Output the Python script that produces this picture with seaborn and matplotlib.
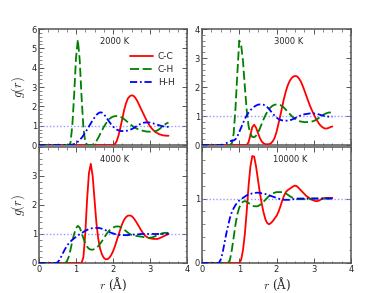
import matplotlib
matplotlib.use("Agg")
import matplotlib.pyplot as plt
import seaborn as sns
from matplotlib.ticker import MultipleLocator, FixedLocator

# ---------------- data ----------------
r = [0.00, 0.05, 0.10, 0.15, 0.20, 0.25, 0.30, 0.35, 0.40, 0.45,
     0.50, 0.55, 0.60, 0.65, 0.70, 0.75, 0.80, 0.85, 0.90, 0.95,
     1.00, 1.05, 1.10, 1.15, 1.20, 1.25, 1.30, 1.35, 1.40, 1.45,
     1.50, 1.55, 1.60, 1.65, 1.70, 1.75, 1.80, 1.85, 1.90, 1.95,
     2.00, 2.05, 2.10, 2.15, 2.20, 2.25, 2.30, 2.35, 2.40, 2.45,
     2.50, 2.55, 2.60, 2.65, 2.70, 2.75, 2.80, 2.85, 2.90, 2.95,
     3.00, 3.05, 3.10, 3.15, 3.20, 3.25, 3.30, 3.35, 3.40, 3.45,
     3.50]

temps = ["2000 K", "3000 K", "4000 K", "10000 K"]
pairs = ["C-C", "C-H", "H-H"]

cc_2000 = [0, 0, 0, 0, 0, 0, 0, 0, 0, 0,
           0, 0, 0, 0, 0, 0, 0, 0, 0, 0,
           0, 0, 0, 0, 0, 0, 0, 0, 0, 0,
           0, 0, 0, 0, 0, 0, 0, 0, 0, 0,
           0.0, 0.05, 0.2, 0.5, 0.9, 1.35, 1.8, 2.15, 2.4, 2.52,
           2.57, 2.55, 2.45, 2.3, 2.1, 1.9, 1.7, 1.5, 1.3, 1.12,
           0.97, 0.85, 0.75, 0.67, 0.61, 0.56, 0.53, 0.5, 0.49, 0.48,
           0.48]
ch_2000 = [0, 0, 0, 0, 0, 0, 0, 0, 0, 0,
           0, 0, 0, 0, 0, 0, 0.0, 0.1, 1.0, 2.6,
           4.5, 5.45, 4.4, 2.5, 0.9, 0.15, 0.02, 0.0, 0.0, 0.02,
           0.08, 0.2, 0.37, 0.56, 0.75, 0.93, 1.09, 1.23, 1.34, 1.42,
           1.47, 1.49, 1.5, 1.49, 1.46, 1.41, 1.34, 1.26, 1.18, 1.1,
           1.02, 0.95, 0.89, 0.84, 0.8, 0.77, 0.74, 0.72, 0.7, 0.69,
           0.69, 0.69, 0.7, 0.72, 0.76, 0.82, 0.9, 0.98, 1.06, 1.12,
           1.16]
hh_2000 = [0, 0, 0, 0, 0, 0, 0, 0, 0, 0,
           0, 0, 0, 0, 0, 0, 0, 0.0, 0.02, 0.05,
           0.1, 0.17, 0.26, 0.37, 0.5, 0.65, 0.8, 0.96, 1.12, 1.28,
           1.42, 1.55, 1.64, 1.69, 1.68, 1.6, 1.48, 1.34, 1.2, 1.07,
           0.96, 0.87, 0.8, 0.76, 0.73, 0.72, 0.72, 0.73, 0.75, 0.78,
           0.82, 0.87, 0.93, 0.99, 1.05, 1.1, 1.14, 1.16, 1.17, 1.17,
           1.16, 1.14, 1.11, 1.08, 1.05, 1.02, 0.99, 0.97, 0.95, 0.94,
           0.94]

cc_3000 = [0, 0, 0, 0, 0, 0, 0, 0, 0, 0,
           0, 0, 0, 0, 0, 0, 0, 0, 0, 0,
           0, 0, 0, 0, 0.0, 0.1, 0.35, 0.62, 0.7, 0.6,
           0.42, 0.25, 0.13, 0.06, 0.03, 0.02, 0.03, 0.06, 0.13, 0.25,
           0.45, 0.72, 1.0, 1.3, 1.6, 1.85, 2.05, 2.2, 2.3, 2.36,
           2.38, 2.37, 2.3, 2.2, 2.05, 1.88, 1.7, 1.52, 1.35, 1.2,
           1.06, 0.93, 0.82, 0.72, 0.65, 0.6, 0.57, 0.57, 0.59, 0.62,
           0.64]
ch_3000 = [0, 0, 0, 0, 0, 0, 0, 0, 0, 0,
           0, 0, 0, 0, 0, 0.0, 0.05, 0.4, 1.3, 2.5,
           3.6, 3.45, 2.9, 2.0, 1.2, 0.65, 0.38, 0.28, 0.27, 0.32,
           0.42, 0.56, 0.72, 0.88, 1.02, 1.14, 1.24, 1.31, 1.36, 1.39,
           1.4, 1.4, 1.38, 1.34, 1.29, 1.22, 1.15, 1.08, 1.01, 0.95,
           0.9, 0.86, 0.83, 0.81, 0.8, 0.79, 0.79, 0.79, 0.8, 0.81,
           0.83, 0.86, 0.9, 0.95, 1.0, 1.04, 1.07, 1.1, 1.12, 1.12,
           1.11]
hh_3000 = [0, 0, 0, 0, 0, 0, 0, 0, 0, 0,
           0, 0.0, 0.02, 0.06, 0.1, 0.13, 0.15, 0.16, 0.2, 0.3,
           0.45, 0.6, 0.75, 0.9, 1.02, 1.12, 1.2, 1.27, 1.32, 1.36,
           1.39, 1.4, 1.4, 1.39, 1.36, 1.31, 1.24, 1.16, 1.08, 1.01,
           0.95, 0.9, 0.87, 0.85, 0.84, 0.84, 0.84, 0.85, 0.87, 0.9,
           0.93, 0.96, 0.99, 1.02, 1.04, 1.06, 1.07, 1.08, 1.09, 1.09,
           1.09, 1.08, 1.07, 1.05, 1.03, 1.01, 1.0, 0.99, 0.98, 0.98,
           0.98]

cc_4000 = [0, 0, 0, 0, 0, 0, 0, 0, 0, 0,
           0, 0, 0, 0, 0, 0, 0, 0, 0, 0,
           0, 0, 0, 0.0, 0.2, 1.0, 2.2, 3.1, 3.42, 3.0,
           2.2, 1.4, 0.85, 0.5, 0.3, 0.18, 0.13, 0.13, 0.18, 0.27,
           0.4, 0.57, 0.77, 0.97, 1.17, 1.35, 1.49, 1.58, 1.63, 1.64,
           1.62, 1.56, 1.47, 1.37, 1.26, 1.15, 1.05, 0.97, 0.91, 0.87,
           0.85, 0.84, 0.83, 0.83, 0.83, 0.85, 0.88, 0.91, 0.94, 0.97,
           1.0]
ch_4000 = [0, 0, 0, 0, 0, 0, 0, 0, 0, 0,
           0, 0, 0, 0, 0.0, 0.05, 0.2, 0.45, 0.75, 1.0,
           1.2, 1.28, 1.22, 1.05, 0.85, 0.68, 0.56, 0.49, 0.46, 0.46,
           0.48, 0.52, 0.58, 0.66, 0.75, 0.85, 0.95, 1.04, 1.12, 1.18,
           1.22, 1.25, 1.26, 1.26, 1.24, 1.2, 1.15, 1.1, 1.05, 1.0,
           0.97, 0.95, 0.94, 0.93, 0.92, 0.91, 0.9, 0.89, 0.88, 0.87,
           0.87, 0.88, 0.9, 0.93, 0.96, 0.99, 1.01, 1.03, 1.04, 1.04,
           1.04]
hh_4000 = [0, 0, 0, 0, 0, 0, 0, 0, 0, 0.0,
           0.02, 0.1, 0.22, 0.35, 0.47, 0.58, 0.67, 0.74, 0.8, 0.85,
           0.9, 0.95, 0.99, 1.03, 1.07, 1.11, 1.14, 1.17, 1.19, 1.2,
           1.21, 1.21, 1.21, 1.2, 1.18, 1.16, 1.13, 1.1, 1.07, 1.04,
           1.02, 1.0, 0.98, 0.97, 0.96, 0.96, 0.96, 0.96, 0.96, 0.97,
           0.97, 0.98, 0.98, 0.99, 0.99, 1.0, 1.0, 1.0, 1.0, 1.0,
           1.0, 1.0, 1.0, 1.0, 1.0, 1.0, 1.0, 1.0, 1.0, 1.0,
           1.0]

cc_10000 = [0, 0, 0, 0, 0, 0, 0, 0, 0, 0,
            0, 0, 0, 0, 0, 0, 0, 0, 0, 0,
            0.0, 0.05, 0.2, 0.45, 0.8, 1.2, 1.5, 1.66, 1.65, 1.5,
            1.3, 1.1, 0.93, 0.79, 0.68, 0.62, 0.6, 0.62, 0.65, 0.69,
            0.73, 0.79, 0.87, 0.96, 1.04, 1.1, 1.13, 1.15, 1.17, 1.19,
            1.2, 1.19, 1.16, 1.13, 1.1, 1.07, 1.04, 1.02, 1.0, 0.98,
            0.97, 0.96, 0.96, 0.97, 0.99, 1.0, 1.01, 1.01, 1.01, 1.01,
            1.01]
ch_10000 = [0, 0, 0, 0, 0, 0, 0, 0, 0, 0,
            0, 0, 0, 0, 0.0, 0.05, 0.2, 0.4, 0.6, 0.76,
            0.86, 0.92, 0.95, 0.96, 0.95, 0.93, 0.91, 0.89, 0.88, 0.88,
            0.88, 0.9, 0.92, 0.95, 0.98, 1.01, 1.04, 1.06, 1.08, 1.09,
            1.1, 1.1, 1.1, 1.1, 1.09, 1.08, 1.06, 1.04, 1.02, 1.01,
            1.0, 0.99, 0.99, 0.99, 0.99, 0.99, 0.99, 0.99, 0.99, 1.0,
            1.0, 1.0, 1.0, 1.0, 1.0, 1.0, 1.0, 1.0, 1.0, 1.0,
            1.0]
hh_10000 = [0, 0, 0, 0, 0, 0, 0, 0, 0, 0.0,
            0.05, 0.15, 0.3, 0.45, 0.58, 0.7, 0.79, 0.85, 0.9, 0.94,
            0.97, 0.99, 1.01, 1.03, 1.05, 1.06, 1.07, 1.08, 1.08, 1.09,
            1.09, 1.09, 1.08, 1.08, 1.07, 1.06, 1.05, 1.04, 1.03, 1.02,
            1.01, 1.0, 0.99, 0.99, 0.98, 0.98, 0.98, 0.98, 0.99, 0.99,
            0.99, 1.0, 1.0, 1.0, 1.0, 1.0, 1.0, 1.0, 1.0, 1.0,
            1.0, 1.0, 1.0, 1.0, 1.0, 1.0, 1.0, 1.0, 1.0, 1.0,
            1.0]

series = {
    "2000 K": [cc_2000, ch_2000, hh_2000],
    "3000 K": [cc_3000, ch_3000, hh_3000],
    "4000 K": [cc_4000, ch_4000, hh_4000],
    "10000 K": [cc_10000, ch_10000, hh_10000],
}
ylims = {"2000 K": 6, "3000 K": 4, "4000 K": 4, "10000 K": 1.8}
yticks = {"2000 K": [0, 1, 2, 3, 4, 5, 6], "3000 K": [0, 1, 2, 3, 4],
          "4000 K": [0, 1, 2, 3], "10000 K": [0, 1]}

# ---------------- style ----------------
sns.set_style("ticks")
plt.rcParams["font.family"] = ["DejaVu Sans"]
plt.rcParams["mathtext.fontset"] = "cm"

colors = ["#ff0000", "#008000", "#0000ff"]
styles = ["-", (0, (5, 2)), (0, (4, 1.5, 1, 1.5))]
spine_col = "#555555"

fig = plt.figure(figsize=(3.9, 2.93), dpi=100)
positions = {
    "2000 K": [0.100, 0.505, 0.3795, 0.396],
    "3000 K": [0.518, 0.505, 0.382, 0.396],
    "4000 K": [0.100, 0.1024, 0.3795, 0.396],
    "10000 K": [0.518, 0.1024, 0.382, 0.396],
}
text_x = {"2000 K": 0.51, "3000 K": 0.58, "4000 K": 0.51, "10000 K": 0.59}

for t in temps:
    ax = fig.add_axes(positions[t])
    ax.axhline(1.0, color="#9999ff", lw=1.0, ls=(0, (1, 1.5)), zorder=1)
    for vals, name, c, ls in zip(series[t], pairs, colors, styles):
        sns.lineplot(x=r, y=vals, ax=ax, color=c, linestyle=ls, lw=1.3,
                     label=name, legend=False, zorder=3)
    ax.set_xlim(0, 4)
    ax.set_ylim(0, ylims[t])
    ax.xaxis.set_major_locator(FixedLocator([0, 1, 2, 3, 4]))
    ax.xaxis.set_minor_locator(MultipleLocator(0.25))
    ax.yaxis.set_major_locator(FixedLocator(yticks[t]))
    ax.yaxis.set_minor_locator(MultipleLocator(0.2))
    ax.tick_params(which="both", direction="in", top=True, right=True,
                   color=spine_col, labelsize=6, pad=1.5)
    ax.tick_params(which="major", length=3.5, width=0.7)
    ax.tick_params(which="minor", length=1.8, width=0.5)
    for s in ax.spines.values():
        s.set_color(spine_col)
        s.set_linewidth(1.1)
    ax.text(text_x[t], 0.89, t, transform=ax.transAxes, ha="center",
            va="center", fontsize=6)
    if t in ("2000 K", "3000 K"):
        ax.set_xticklabels([])
    else:
        ax.set_xlabel(r"$r$ (Å)", fontsize=8.5, labelpad=1,
                      family=["DejaVu Serif"])
    if t in ("2000 K", "4000 K"):
        ax.set_ylabel(r"$g(r)$", fontsize=9, labelpad=3)
    else:
        ax.set_ylabel("")
    if t == "2000 K":
        ax.legend(loc="upper right", bbox_to_anchor=(0.94, 0.83), frameon=False,
                  fontsize=6.5, handlelength=2.6, labelspacing=0.45,
                  handletextpad=0.5, borderaxespad=0.0)

fig.savefig("out.png", dpi=100)
